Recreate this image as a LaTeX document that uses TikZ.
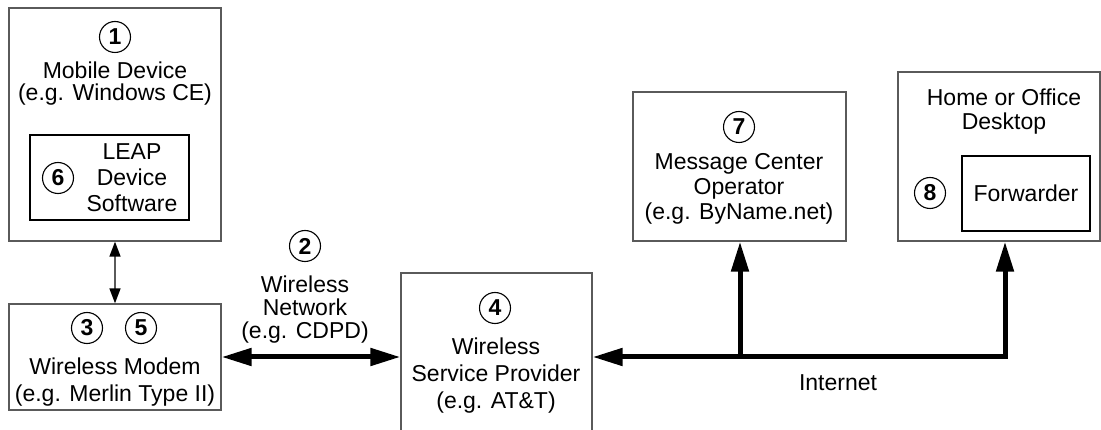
\documentclass[tikz,border=0pt]{standalone}
\usepackage{fontspec}
\setmainfont{Liberation Sans}
\usetikzlibrary{arrows.meta}
\definecolor{boxline}{HTML}{5A5A5A}

\tikzset{
  box/.style={rectangle, draw=boxline, line width=1.3pt, inner sep=0pt},
  inbox/.style={rectangle, draw=black, line width=1.1pt, inner sep=0pt},
  num/.style={circle, draw, line width=1.1pt, inner sep=0pt, minimum size=31pt,
    font=\fontsize{23}{23}\bfseries},
  lbl/.style={align=center, inner sep=0pt},
  pipe/.style={line width=5pt, line join=miter,
    arrows={-Triangle[length=30pt, width=17pt]}},
  link/.style={draw=boxline, line width=1.5pt,
    arrows={Triangle[length=15pt, width=11pt, color=black]-Triangle[length=15pt, width=11pt, color=black]}}
}

\begin{document}
\begin{tikzpicture}[x=1pt, y=-1pt, font=\fontsize{23}{23}\selectfont]
            \useasboundingbox (0,0) rectangle (1101,430);

            % boxes
            \node[box, minimum width=212pt, minimum height=233pt] (mob) at (115,124.5) {};
            \node[inbox, minimum width=159pt, minimum height=85pt] (leap) at (109.5,177.5) {};
            \node[box, minimum width=212pt, minimum height=106pt] (mod) at (115,357) {};
            \node[box, minimum width=191pt, minimum height=177pt] (wsp) at (496.5,361.5) {};
            \node[box, minimum width=213pt, minimum height=149pt] (mc) at (739.5,166.5) {};
            \node[box, minimum width=202pt, minimum height=169pt] (desk) at (999,156.5) {};
            \node[inbox, minimum width=128pt, minimum height=75pt] (fwd) at (1026,193.5) {Forwarder};

            % numbers and labels
            \node[num] (c1) at (115,37) {1};
            \node[lbl, font=\fontsize{23}{22}\selectfont] (t1) at (115,84) {Mobile Device\\(e.g. Windows CE)};
            \node[num] (c6) at (58,178) {6};
            \node[lbl, font=\fontsize{23}{26}\selectfont] (t6) at (132,178) {LEAP\\Device\\Software};
            \node[num] (c3) at (87,328) {3};
            \node[num] (c5) at (141,328) {5};
            \node[lbl, font=\fontsize{23}{27.5}\selectfont] (t3) at (115,382) {Wireless Modem\\(e.g. Merlin Type II)};
            \node[num] (c2) at (305,246) {2};
            \node[lbl, font=\fontsize{23}{23}\selectfont] (t2) at (305,310) {Wireless\\Network\\(e.g. CDPD)};
            \node[num] (c4) at (495,308) {4};
            \node[lbl, font=\fontsize{23}{27}\selectfont] (t4) at (496,376) {Wireless\\Service Provider\\(e.g. AT\&T)};
            \node[num] (c7) at (739,127) {7};
            \node[lbl, font=\fontsize{23}{25}\selectfont] (t7) at (739,189) {Message Center\\Operator\\(e.g. ByName.net)};
            \node[lbl, font=\fontsize{23}{24}\selectfont] (t8) at (1004,112) {Home or Office\\Desktop};
            \node[num] (c8) at (930,193) {8};
            \node[lbl] (inet) at (838,383) {Internet};

            % connections
            \coordinate (jmc) at (740,357);
            \coordinate (jdt) at (1005,357);
            \draw[link] (mob.south) -- (mod.north);
            \draw[pipe, arrows={Triangle[length=30pt, width=17pt]-Triangle[length=30pt, width=17pt]}] (mod.east) -- (mod.east -| wsp.west);
            \draw[pipe, arrows={Triangle[length=30pt, width=17pt]-Triangle[length=30pt, width=17pt]}] (wsp.east |- jdt) -- (jdt) -- (jdt |- desk.south);
            \draw[pipe] (jmc) -- (jmc |- mc.south);
        \end{tikzpicture}
\end{document}
